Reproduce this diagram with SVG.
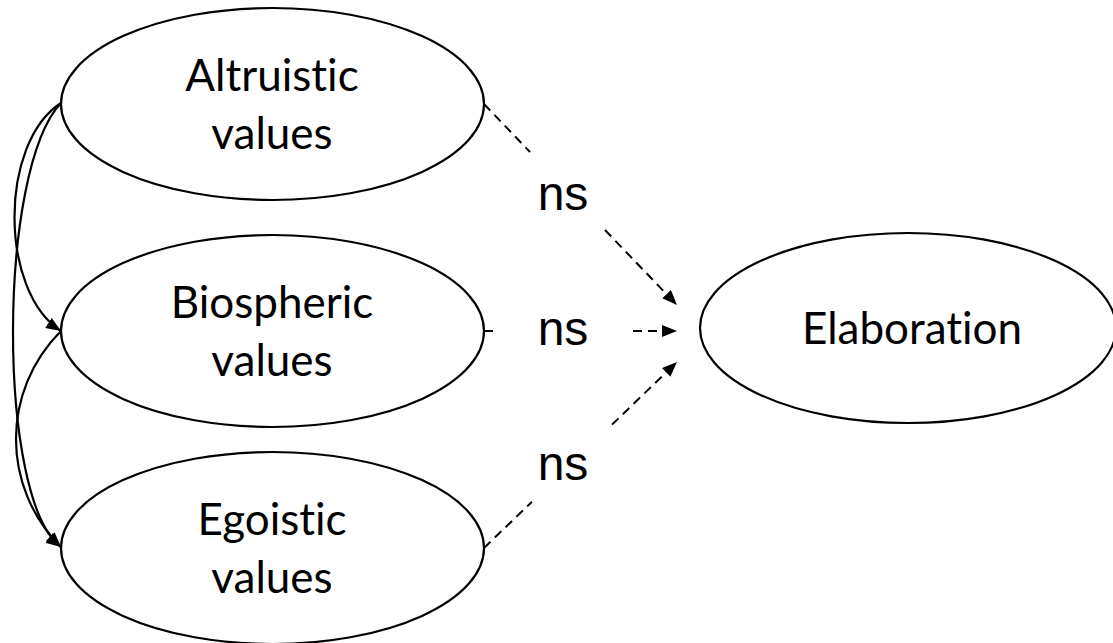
<svg xmlns="http://www.w3.org/2000/svg" width="1113" height="643" viewBox="0 0 1113 643">
<style>
.node ellipse{fill:#fff;stroke:#000;stroke-width:2.2}
.lbl{font-family:Lato,"Liberation Sans",sans-serif;font-size:44px;fill:#000;text-anchor:middle;font-variant-ligatures:none;font-feature-settings:"liga" 0}
.ns{font-family:"Liberation Sans",Arial,sans-serif;font-size:48px;fill:#000;text-anchor:middle}
.dash{fill:none;stroke:#000;stroke-width:2;stroke-dasharray:9 6}
.cov{fill:none;stroke:#000;stroke-width:2.2}
</style>
<defs>
<marker id="ah" viewBox="0 -6 15 12" refX="0" refY="0" markerWidth="15" markerHeight="12" markerUnits="userSpaceOnUse" orient="auto">
<path d="M0,-6 L15,0 L0,6 z" fill="#000"/>
</marker>
<marker id="ah2" viewBox="0 -6 15 12" refX="15" refY="0" markerWidth="15" markerHeight="12" markerUnits="userSpaceOnUse" orient="auto">
<path d="M0,-6 L15,0 L0,6 z" fill="#000"/>
</marker>
</defs>
<g id="altruistic" class="node">
<ellipse cx="272.5" cy="104" rx="211.5" ry="96"/>
<text class="lbl" x="272" y="91">Altruistic</text>
<text class="lbl" x="272" y="149">values</text>
</g>
<g id="biospheric" class="node">
<ellipse cx="272.5" cy="331" rx="211.5" ry="96"/>
<text class="lbl" x="272" y="318">Biospheric</text>
<text class="lbl" x="272" y="376">values</text>
</g>
<g id="egoistic" class="node">
<ellipse cx="272.5" cy="548" rx="211.5" ry="96"/>
<text class="lbl" x="272" y="535">Egoistic</text>
<text class="lbl" x="272" y="593">values</text>
</g>
<g id="elaboration" class="node">
<ellipse cx="908" cy="328" rx="208" ry="95"/>
<text class="lbl" x="912" y="344">Elaboration</text>
</g>
<g id="connectors">
<path class="cov" d="M61,103 C-1,143 -1,291 61,331" marker-end="url(#ah2)"/>
<path class="cov" d="M61,103 C-3,170 -3,500 61,547" marker-end="url(#ah2)"/>
<path class="cov" d="M61,331 C1,391 1,487 61,547" marker-end="url(#ah2)"/>
<path class="dash" d="M484,104 L530,152 M605,230 L666.6,294.2" marker-end="url(#ah)"/>
<path class="dash" d="M484,331 L493,331 M633,331 L662,331" marker-end="url(#ah)"/>
<path class="dash" d="M484,548 L532,501.7 M612,424.6 L666.2,372.4" marker-end="url(#ah)"/>
</g>
<g id="labels">
<text class="ns" x="563" y="210">ns</text>
<text class="ns" x="563" y="345">ns</text>
<text class="ns" x="563" y="480">ns</text>
</g>
</svg>
